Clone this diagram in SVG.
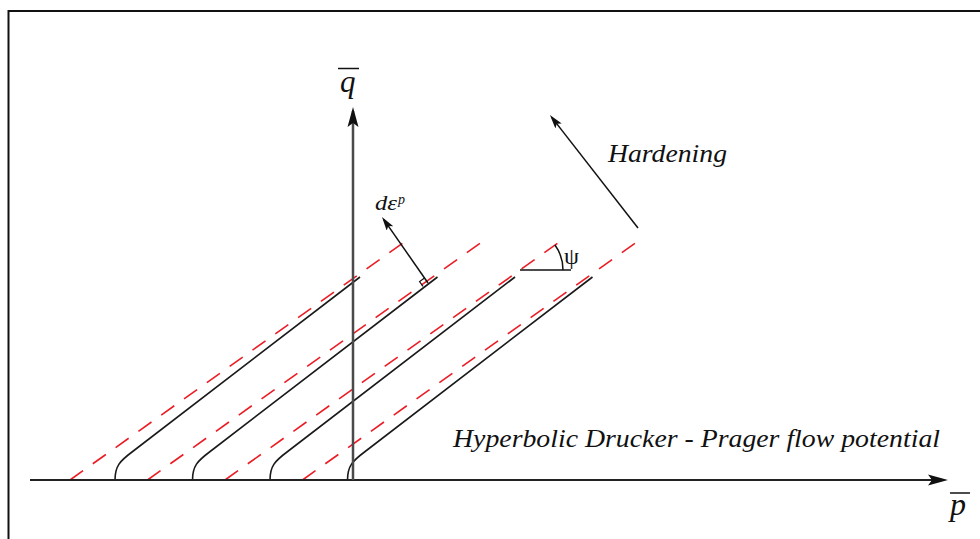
<svg xmlns="http://www.w3.org/2000/svg" width="980" height="539" viewBox="0 0 980 539">
<style>
.red{fill:none;stroke:#ec1c24;stroke-width:1.6;stroke-dasharray:16 12}
.blk{fill:none;stroke:#1a1a1a;stroke-width:1.6}
.lbl{font-family:"Liberation Serif","Times New Roman",serif;font-style:italic;fill:#111}
.sym{font-family:"Liberation Serif","DejaVu Serif",serif;fill:#111}
</style>
<defs>
<marker id="ah" viewBox="0 0 20 12" markerWidth="20" markerHeight="12" markerUnits="userSpaceOnUse" refX="16" refY="6" orient="auto">
<path d="M0,0.5 L20,6 L0,11.5 L4,6 Z" fill="#111"/>
</marker>
<marker id="ahs" viewBox="0 0 14 8" markerWidth="14" markerHeight="8" markerUnits="userSpaceOnUse" refX="11" refY="4" orient="auto">
<path d="M0,0 L14,4 L0,8 L3,4 Z" fill="#111"/>
</marker>
<g id="pair">
<line class="red" x1="70" y1="480" x2="410" y2="238"/>
<path class="blk" d="M115,480 C115,466 120,461 132,452 L360,277"/>
</g>
</defs>
<rect width="980" height="539" fill="#fff"/>
<path d="M8.5,539 V11 H980" fill="none" stroke="#111" stroke-width="2"/>

<g id="curves">
<use id="curve1" href="#pair"/>
<use id="curve2" href="#pair" transform="translate(77.5,0)"/>
<use id="curve3" href="#pair" transform="translate(155,0)"/>
<use id="curve4" href="#pair" transform="translate(232.5,0)"/>
</g>

<g id="connectors">
<line id="p-axis" x1="30" y1="480" x2="944" y2="480" stroke="#222" stroke-width="2" marker-end="url(#ah)"/>
<line id="q-axis" x1="353" y1="480" x2="353" y2="111" stroke="#4a4a4a" stroke-width="2.5" marker-end="url(#ah)"/>
<line id="deps-arrow" x1="428" y1="283" x2="383.7" y2="219.4" stroke="#111" stroke-width="1.5" marker-end="url(#ahs)"/>
<line id="hardening-arrow" x1="638" y1="228" x2="551.8" y2="117.4" stroke="#111" stroke-width="1.5" marker-end="url(#ahs)"/>
<path id="right-angle" d="M424.5,278.1 L419.6,281.6 L423.1,286.5" fill="none" stroke="#111" stroke-width="1.2"/>
<g id="psi-angle">
<line x1="520" y1="270" x2="571" y2="270" stroke="#111" stroke-width="1.5"/>
<path d="M555,245 A43,43 0 0 1 563,270" fill="none" stroke="#111" stroke-width="1.5"/>
</g>
</g>

<g id="label-q">
<text class="lbl" x="340" y="92" font-size="31">q</text>
<line x1="338" y1="68.5" x2="359" y2="68.5" stroke="#111" stroke-width="1.5"/>
</g>
<g id="label-p">
<text class="lbl" x="950" y="515" font-size="32">p</text>
<line x1="950" y1="493" x2="970" y2="493" stroke="#111" stroke-width="1.5"/>
</g>
<g id="label-deps">
<text class="lbl" x="375" y="210" font-size="21" textLength="22" lengthAdjust="spacingAndGlyphs">dε</text>
<text class="lbl" x="398" y="204" font-size="14">p</text>
</g>
<g id="label-psi">
<text class="sym" x="564" y="264" font-size="24">ψ</text>
</g>
<g id="label-hardening">
<text class="lbl" x="608" y="162" font-size="26" textLength="119" lengthAdjust="spacingAndGlyphs">Hardening</text>
</g>
<g id="label-potential">
<text class="lbl" x="453" y="447" font-size="26" textLength="487" lengthAdjust="spacingAndGlyphs">Hyperbolic Drucker - Prager flow potential</text>
</g>
</svg>
